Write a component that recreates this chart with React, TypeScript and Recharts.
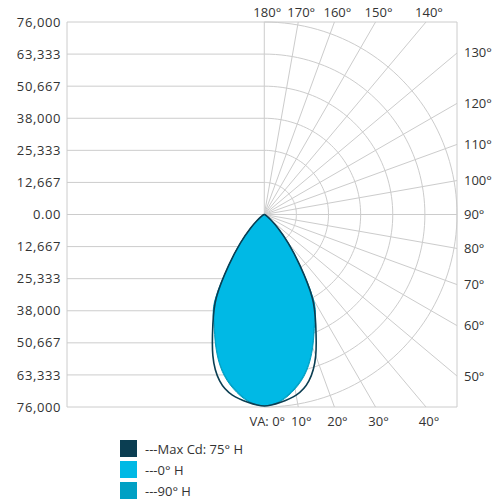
import React from "react";
import { ScatterChart, Scatter, XAxis, YAxis } from "recharts";

// vertical angles (VA), 5° steps
const VERTICAL_ANGLES = [0, 5, 10, 15, 20, 25, 30, 35, 40, 45, 50, 55, 60, 65, 70, 75, 80, 85, 90];

// candela per VA, one list per horizontal plane
const MAX_CD_75H = [75600, 74400, 72400, 68000, 59300, 48000, 37800, 24400, 14600, 7800, 3700, 1800, 900, 500, 300, 200, 100, 50, 0];
const H_0 = [75300, 73600, 69300, 63500, 55100, 46400, 38200, 23800, 14300, 7500, 3500, 1700, 900, 500, 300, 200, 100, 50, 0];
const H_90 = [75500, 74000, 69900, 64100, 55800, 47100, 38800, 24400, 14800, 7800, 3700, 1800, 950, 500, 300, 200, 100, 50, 0];

const Y_TICKS = [76000, 63333, 50667, 38000, 25333, 12667, 0];
const RING_VALUES = [12667, 25333, 38000, 50667, 63333, 76000];
const RADIAL_ANGLES = [0, 10, 20, 30, 40, 50, 60, 70, 80, 90, 100, 110, 120, 130, 140, 150, 160, 170, 180];
const LABEL_ANGLES = [180, 170, 160, 150, 140, 130, 120, 110, 100, 90, 80, 70, 60, 50, 40, 30, 20, 10, 0];

const LEGEND = [
  { name: "---Max Cd: 75° H", color: "#0b3e52" },
  { name: "---0° H", color: "#00b9e5" },
  { name: "---90° H", color: "#00a0c4" },
];

const GRID = "#cccccc";
const X_MIN = -77800;
const R_MAX = 76000;
const FONT = "'Open Sans', sans-serif";

const rad = (d: number) => (d * Math.PI) / 180;
const polar = (va: number, r: number) => ({ x: r * Math.sin(rad(va)), y: -r * Math.cos(rad(va)) });

// right half of the plane, then mirrored on the left
function lobe(values: number[]) {
  const left = VERTICAL_ANGLES.map((a, i) => {
    const p = polar(a, values[i]);
    return { x: -p.x, y: p.y };
  }).reverse();
  const right = VERTICAL_ANGLES.map((a, i) => polar(a, values[i])).slice(1);
  return [...left, ...right];
}

function edge(va: number) {
  const s = Math.abs(Math.sin(rad(va)));
  const c = Math.abs(Math.cos(rad(va)));
  const p = polar(va, R_MAX / Math.max(s, c));
  const side = s > c + 1e-9 ? "right" : Math.cos(rad(va)) < 0 ? "top" : "bottom";
  const clamp = (v: number) => Math.max(-R_MAX, Math.min(R_MAX, v));
  return { x: clamp(p.x), y: clamp(p.y), side };
}

const arcSteps = Array.from({ length: 91 }, (_, i) => i * 2);
const arcs = RING_VALUES.map((r) => arcSteps.map((a) => polar(a, r)));
const radials = RADIAL_ANGLES.map((a) => [{ x: 0, y: 0 }, edge(a)]);
const allTicks = [...Y_TICKS.slice(0, -1).map((v) => -v), ...Y_TICKS.slice().reverse()];
const leftRows = allTicks.map((v) => [
  { x: X_MIN, y: v },
  { x: Math.abs(v) === R_MAX ? R_MAX : 0, y: v },
]);
const rightBorder = [
  { x: R_MAX, y: -R_MAX },
  { x: R_MAX, y: R_MAX },
];
const labelPoints = LABEL_ANGLES.map((a) => ({ ...edge(a), text: a === 0 ? "VA: 0°" : `${a}°` }));

const noDot = () => <g />;

const AngleLabel = (props: any) => {
  const { cx, cy, payload } = props;
  const common = { fontSize: 13, fill: "#333", fontFamily: FONT };
  if (payload.side === "top")
    return (
      <text x={cx + 3} y={cy - 5.5} textAnchor="middle" {...common}>
        {payload.text}
      </text>
    );
  if (payload.side === "right")
    return (
      <text x={cx + 7} y={cy + 4.5} textAnchor="start" {...common}>
        {payload.text}
      </text>
    );
  return (
    <text x={cx + 3} y={cy + 18.5} textAnchor="middle" {...common}>
      {payload.text}
    </text>
  );
};

const fmt = (v: number) => (v === 0 ? "0.00" : Math.abs(v).toLocaleString("en-US"));

const gridLine = { stroke: GRID, strokeWidth: 1, fill: "none" };

export default function App() {
  return (
    <div style={{ position: "relative", width: 495, height: 500, marginTop: -8, fontFamily: FONT }}>
      <ScatterChart width={495} height={438} margin={{ top: 22, right: 46, bottom: 31, left: 0 }}>
        <XAxis type="number" dataKey="x" domain={[X_MIN, R_MAX]} hide />
        <YAxis
          type="number"
          dataKey="y"
          domain={[-R_MAX, R_MAX]}
          ticks={allTicks}
          interval={0}
          tickFormatter={fmt}
          width={59}
          tickLine={false}
          tickSize={4}
          tickMargin={2}
          axisLine={{ stroke: GRID }}
          tick={{ fill: "#333", fontSize: 13, fontFamily: FONT, letterSpacing: 0.6 }}
        />
        {leftRows.map((d, i) => (
          <Scatter key={`h${i}`} data={d} line={gridLine} shape={noDot} isAnimationActive={false} />
        ))}
        <Scatter data={rightBorder} line={gridLine} shape={noDot} isAnimationActive={false} />
        {arcs.map((d, i) => (
          <Scatter key={`a${i}`} data={d} line={gridLine} shape={noDot} isAnimationActive={false} />
        ))}
        {radials.map((d, i) => (
          <Scatter key={`r${i}`} data={d} line={gridLine} shape={noDot} isAnimationActive={false} />
        ))}
        <Scatter
          name="---90° H"
          data={lobe(H_90)}
          line={{ stroke: "#00a0c4", strokeWidth: 1, fill: "#00a0c4" }}
          lineJointType="natural"
          shape={noDot}
          isAnimationActive={false}
        />
        <Scatter
          name="---0° H"
          data={lobe(H_0)}
          line={{ stroke: "none", fill: "#00b9e5" }}
          lineJointType="natural"
          shape={noDot}
          isAnimationActive={false}
        />
        <Scatter
          name="---Max Cd: 75° H"
          data={lobe(MAX_CD_75H)}
          line={{ stroke: "#0b3e52", strokeWidth: 1.6, fill: "none" }}
          lineJointType="natural"
          shape={noDot}
          isAnimationActive={false}
        />
        <Scatter data={labelPoints} shape={AngleLabel} isAnimationActive={false} />
      </ScatterChart>
      <div style={{ position: "absolute", left: 112, top: 438 }}>
        {LEGEND.map((l) => (
          <div key={l.name} style={{ display: "flex", alignItems: "center", height: 21 }}>
            <span style={{ width: 17, height: 17, background: l.color, display: "inline-block", marginRight: 8 }} />
            <span style={{ fontSize: 13, color: "#333" }}>{l.name}</span>
          </div>
        ))}
      </div>
    </div>
  );
}
